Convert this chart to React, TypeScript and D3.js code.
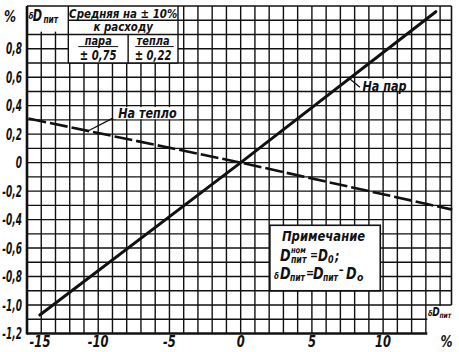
import React from 'react'
import * as d3 from 'd3'

const W = 459
const H = 352
const FONT = "'DejaVu Sans', sans-serif"

// tick labels (Russian decimal comma)
const xTickValues = [-15, -10, -5, 0, 5, 10]
const xTickLabels = ['-15', '-10', '-5', '0', '5', '10']
const yTickValues = [0.8, 0.6, 0.4, 0.2, 0, -0.2, -0.4, -0.6, -0.8, -1.0, -1.2]
const yTickLabels = ['0,8', '0,6', '0,4', '0,2', '0', '-0,2', '-0,4', '-0,6', '-0,8', '-1,0', '-1,2']

// "На пар" (steam), solid
const steamX = [-14.1, 0, 13.7]
const steamY = [-1.07, 0, 1.06]
// "На тепло" (heat), dashed
const heatX = [-14.9, 0, 14.85]
const heatY = [0.31, 0, -0.33]

const tableHead = ['Средняя на ± 10%', 'к расходу']
const tableCols = ['пара', 'тепла']
const tableVals = ['± 0,75', '± 0,22']

// condensed italic drafting-style text
function T({ x, y, size, sx = 0.72, anchor = 'start', children }: {
  x: number; y: number; size: number; sx?: number; anchor?: string; children: React.ReactNode
}) {
  return (
    <text
      transform={`translate(${x},${y}) scale(${sx},1)`}
      fontSize={size}
      textAnchor={anchor}
      fontFamily={FONT}
      fontStyle="italic"
      fontWeight={700}
      fill="#111"
    >
      {children}
    </text>
  )
}

export default function App() {
  const x = d3.scaleLinear().domain([-15, 14.8]).range([27, 451.5])
  const y = d3.scaleLinear().domain([-1.2, 1.1]).range([333.5, 6])

  const vLines = d3.range(-14, 15)
  const hLines = d3.range(-11, 11).map(i => i / 10)

  const steamPath = d3.line<number>()
    .x(d => x(steamX[d]))
    .y(d => y(steamY[d]))(d3.range(steamX.length))
  const heatPath = d3.line<number>()
    .x(d => x(heatX[d]))
    .y(d => y(heatY[d]))(d3.range(heatX.length))

  // table extents
  const tx0 = x(-12.1), tx1 = x(-4.4), tmid = x(-7.9)
  const noteX0 = x(2.05), noteX1 = x(9.8), noteY0 = y(-0.44), noteY1 = y(-0.9)
  const cornerX = x(13.1)

  return (
    <svg width={W} height={H} style={{ position: 'absolute', left: 0, top: 0, background: '#fff' }}>
      <rect width={W} height={H} fill="#fff" />
      {/* grid */}
      <g stroke="#111" strokeWidth={1.4}>
        {vLines.map(v => (
          <line key={'v' + v} x1={x(v)} x2={x(v)} y1={y(1.1)} y2={y(-1.2)} />
        ))}
        {hLines.map(v => (
          <line key={'h' + v} x1={x(-15)} x2={x(14.8)} y1={y(v)} y2={y(v)} />
        ))}
      </g>
      {/* white masks */}
      <rect x={x(-15)} y={y(1.1)} width={tx0 - x(-15)} height={y(0.92) - y(1.1)} fill="#fff" />
      <rect x={tx0} y={y(1.1)} width={tx1 - tx0} height={y(0.7) - y(1.1)} fill="#fff" />
      <rect x={cornerX} y={y(-1.0) + 1} width={W - cornerX} height={H - y(-1.0)} fill="#fff" />

      {/* frame */}
      <g stroke="#111" fill="none">
        <line x1={x(-15)} x2={x(-15)} y1={y(1.1)} y2={y(-1.2) + 1} strokeWidth={2.6} />
        <line x1={x(-15)} x2={cornerX} y1={y(-1.2)} y2={y(-1.2)} strokeWidth={2.6} />
        <line x1={x(-15)} x2={x(14.8)} y1={y(1.1)} y2={y(1.1)} strokeWidth={1.6} />
        <line x1={x(14.8)} x2={x(14.8)} y1={y(1.1)} y2={y(-1.0)} strokeWidth={1.6} />
      </g>

      {/* table */}
      <g stroke="#111" fill="none" strokeWidth={1.4}>
        <line x1={tx0} x2={tx0} y1={y(1.1)} y2={y(0.7)} />
        <line x1={tx1} x2={tx1} y1={y(1.1)} y2={y(0.7)} />
        <line x1={tx0} x2={tx1} y1={y(1.0)} y2={y(1.0)} />
        <line x1={tx0} x2={tx1} y1={y(0.9)} y2={y(0.9)} />
        <line x1={tx0} x2={tx1} y1={y(0.7)} y2={y(0.7)} />
        <line x1={tmid} x2={tmid} y1={y(0.9)} y2={y(0.7)} />
        <line x1={x(-11.4)} x2={x(-8.6)} y1={y(0.815)} y2={y(0.815)} strokeWidth={1} />
        <line x1={x(-7.4)} x2={x(-4.7)} y1={y(0.815)} y2={y(0.815)} strokeWidth={1} />
      </g>
      <T x={(tx0 + tx1) / 2} y={y(1.0) - 2.5} size={12.5} sx={0.82} anchor="middle">{tableHead[0]}</T>
      <T x={(tx0 + tx1) / 2} y={y(0.9) - 3} size={12.5} sx={0.82} anchor="middle">{tableHead[1]}</T>
      <T x={(tx0 + tmid) / 2} y={y(0.815) - 1.5} size={12} sx={0.82} anchor="middle">{tableCols[0]}</T>
      <T x={(tmid + tx1) / 2} y={y(0.815) - 1.5} size={12} sx={0.82} anchor="middle">{tableCols[1]}</T>
      <T x={(tx0 + tmid) / 2} y={y(0.7) - 2.5} size={14} sx={0.72} anchor="middle">{tableVals[0]}</T>
      <T x={(tmid + tx1) / 2} y={y(0.7) - 2.5} size={14} sx={0.72} anchor="middle">{tableVals[1]}</T>

      {/* curves */}
      <path d={heatPath ?? ''} fill="none" stroke="#111" strokeWidth={2.6} strokeDasharray="18 4" />
      <path d={steamPath ?? ''} fill="none" stroke="#111" strokeWidth={3} strokeLinecap="round" />

      {/* annotations */}
      <rect x={x(-8.75)} y={y(0.39)} width={x(-4.35) - x(-8.75)} height={y(0.305) - y(0.39)} fill="#fff" />
      <T x={x(-8.6)} y={y(0.31)} size={14} sx={0.8}>На тепло</T>
      <line x1={x(-10.72)} y1={y(0.222)} x2={x(-8.97)} y2={y(0.313)} stroke="#111" strokeWidth={1.3} />

      <rect x={x(8.45)} y={y(0.59)} width={x(11.4) - x(8.45)} height={y(0.505) - y(0.59)} fill="#fff" />
      <T x={x(8.55)} y={y(0.505)} size={14} sx={0.8}>На пар</T>
      <line x1={x(7.67)} y1={y(0.587)} x2={x(8.37)} y2={y(0.53)} stroke="#111" strokeWidth={1.3} />

      {/* note */}
      <rect x={noteX0} y={noteY0} width={noteX1 - noteX0} height={noteY1 - noteY0} fill="#fff" stroke="#111" strokeWidth={1.6} />
      <T x={noteX0 + 12} y={noteY0 + 16} size={14.5} sx={0.8}>Примечание</T>
      <T x={noteX0 + 10} y={noteY0 + 36} size={16} sx={0.8}>D</T>
      <T x={noteX0 + 21} y={noteY0 + 27.5} size={8.5} sx={0.8}>ном</T>
      <T x={noteX0 + 21} y={noteY0 + 38} size={11} sx={0.72}>пит</T>
      <T x={noteX0 + 40} y={noteY0 + 34} size={12} sx={0.8}>=</T>
      <T x={noteX0 + 48} y={noteY0 + 36} size={15} sx={0.8}>D</T>
      <T x={noteX0 + 58} y={noteY0 + 38} size={10} sx={0.8}>0</T>
      <T x={noteX0 + 65} y={noteY0 + 36} size={14} sx={0.8}>;</T>
      <T x={noteX0 + 4} y={noteY0 + 54} size={9} sx={0.8}>δ</T>
      <T x={noteX0 + 10} y={noteY0 + 54} size={16} sx={0.8}>D</T>
      <T x={noteX0 + 20} y={noteY0 + 56} size={11} sx={0.7}>пит</T>
      <T x={noteX0 + 36} y={noteY0 + 52} size={12} sx={0.8}>=</T>
      <T x={noteX0 + 43} y={noteY0 + 54} size={16} sx={0.8}>D</T>
      <T x={noteX0 + 53} y={noteY0 + 56} size={11} sx={0.7}>пит</T>
      <T x={noteX0 + 69} y={noteY0 + 49} size={12} sx={0.8}>–</T>
      <T x={noteX0 + 76} y={noteY0 + 54} size={16} sx={0.8}>D</T>
      <T x={noteX0 + 87} y={noteY0 + 56} size={11} sx={0.85}>o</T>

      {/* axis labels */}
      {yTickValues.map((v, i) => (
        <T key={'yt' + v} x={22} y={y(v) + 5.5} size={15} sx={0.6} anchor="end">{yTickLabels[i]}</T>
      ))}
      {xTickValues.map((v, i) => (
        <T key={'xt' + v} x={v === -15 ? x(v) + 13 : x(v)} y={347} size={16} sx={0.72} anchor="middle">{xTickLabels[i]}</T>
      ))}
      <T x={10} y={22} size={16} sx={0.75} anchor="middle">%</T>
      <T x={x(14.45)} y={347} size={16} sx={0.75} anchor="middle">%</T>
      <T x={x(-14.9)} y={19} size={9} sx={0.8}>δ</T>
      <T x={x(-14.6)} y={21} size={15} sx={0.75}>D</T>
      <T x={x(-13.85)} y={23} size={10} sx={0.75}>пит</T>
      <T x={x(13.15)} y={y(-1.08)} size={8} sx={0.8}>δ</T>
      <T x={x(13.45)} y={y(-1.08)} size={12} sx={0.75}>D</T>
      <T x={x(13.95)} y={y(-1.09)} size={8} sx={0.75}>пит</T>
    </svg>
  )
}
